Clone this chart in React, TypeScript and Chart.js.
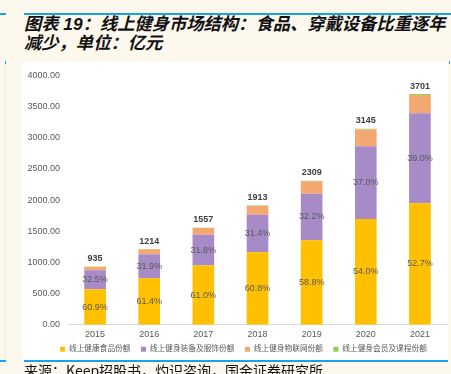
import React, { useEffect, useRef } from "react";
import { Chart, registerables } from "chart.js";

Chart.register(...registerables);

const years = ["2015", "2016", "2017", "2018", "2019", "2020", "2021"];
const foodValues = [569, 745, 950, 1163, 1358, 1698, 1950];
const gearValues = [304, 387, 495, 601, 743, 1164, 1443];
const iotValues = [59, 78, 107, 142, 199, 270, 291];
const memberValues = [3, 4, 5, 7, 9, 13, 17];
const totalLabels = ["935", "1214", "1557", "1913", "2309", "3145", "3701"];
const foodShare = ["60.9%", "61.4%", "61.0%", "60.8%", "58.8%", "54.0%", "52.7%"];
const gearShare = ["32.5%", "31.9%", "31.8%", "31.4%", "32.2%", "37.0%", "39.0%"];
const seriesNames = [
  "线上健康食品份额",
  "线上健身装备及服饰份额",
  "线上健身物联网份额",
  "线上健身会员及课程份额",
];
const seriesColors = ["#FFC000", "#A78BC7", "#F4A871", "#92D050"];
const yMax = 4000;
const yStep = 500;

const FONT = "'Liberation Sans', Arial, 'Noto Sans CJK SC', sans-serif";

const labelPlugin = {
  id: "barLabels",
  afterDatasetsDraw(chart: any) {
    const ctx = chart.ctx;
    ctx.save();
    ctx.textAlign = "center";
    ctx.textBaseline = "middle";
    const shares = [foodShare, gearShare];
    shares.forEach((arr, di) => {
      const meta = chart.getDatasetMeta(di);
      ctx.font = `9px ${FONT}`;
      ctx.fillStyle = "#595959";
      meta.data.forEach((el: any, i: number) => {
        ctx.fillText(arr[i], el.x, (el.y + el.base) / 2);
      });
    });
    const top = chart.getDatasetMeta(3);
    ctx.font = `bold 9px ${FONT}`;
    ctx.fillStyle = "#404040";
    top.data.forEach((el: any, i: number) => {
      ctx.fillText(totalLabels[i], el.x, el.y - 8);
    });
    ctx.restore();
  },
};

const legendShift = {
  id: "legendShift",
  afterLayout(chart: any) {
    const lg = chart.legend;
    if (!lg) return;
    lg.left += 9;
    lg.right += 9;
    lg.top -= 5;
    lg.bottom -= 5;
  },
};

function ChartPanel() {
  const ref = useRef<HTMLCanvasElement | null>(null);
  useEffect(() => {
    if (!ref.current) return;
    const data = [foodValues, gearValues, iotValues, memberValues];
    const chart = new Chart(ref.current, {
      type: "bar",
      data: {
        labels: years,
        datasets: data.map((d, i) => ({
          label: seriesNames[i],
          data: d,
          backgroundColor: seriesColors[i],
          borderWidth: 0,
          barPercentage: 0.4,
          categoryPercentage: 1,
        })),
      },
      options: {
        animation: false,
        responsive: false,
        maintainAspectRatio: false,
        layout: { padding: { top: 13, right: 1, left: 0, bottom: 0 } },
        scales: {
          x: {
            stacked: true,
            grid: { display: false, drawTicks: false },
            border: { display: true, color: "#d9d9d9", width: 1 },
            ticks: { color: "#595959", font: { size: 9, family: FONT }, padding: 4 },
            afterFit: (s: any) => {
              s.height = 15;
            },
          },
          y: {
            stacked: true,
            min: 0,
            max: yMax,
            grid: { display: false, drawTicks: false },
            border: { display: false },
            ticks: {
              stepSize: yStep,
              color: "#595959",
              font: { size: 9, family: FONT },
              padding: 8,
              callback: (v: any) => Number(v).toFixed(2),
            },
            afterFit: (s: any) => {
              s.width = 46;
            },
          },
        },
        plugins: {
          legend: {
            position: "bottom",
            labels: {
              boxWidth: 5,
              boxHeight: 5,
              padding: 10.5,
              color: "#595959",
              font: { size: 7.7, family: FONT },
            },
          },
          tooltip: { enabled: false },
        },
      },
      plugins: [labelPlugin, legendShift],
    });
    return () => chart.destroy();
  }, []);
  return <canvas ref={ref} width={426} height={306} style={{ display: "block" }} />;
}

export default function App() {
  const blue = "#1BA1E6";
  return (
    <div
      style={{
        position: "fixed",
        left: 0,
        top: 0,
        width: 451,
        height: 374,
        background: "#FCF8EE",
        overflow: "hidden",
      }}
    >
      <div style={{ position: "absolute", left: 0, top: 13, width: 6, height: 2, background: blue }} />
      <div style={{ position: "absolute", left: 24, top: 13, width: 427, height: 2, background: blue }} />
      <div
        style={{
          position: "absolute",
          left: 24,
          top: 15,
          width: 430,
          fontFamily: "'Liberation Sans', 'Noto Sans CJK SC', sans-serif",
          fontStyle: "italic",
          fontWeight: 700,
          fontSize: 17.3,
          lineHeight: "19px",
          color: "#111",
          whiteSpace: "nowrap",
        }}
      >
        <div>图表 19：线上健身市场结构：食品、穿戴设备比重逐年</div>
        <div>减少，单位：亿元</div>
      </div>
      <div style={{ position: "absolute", left: 5, top: 62, width: 1, height: 298, background: "#F1ECE0" }} />
      <div style={{ position: "absolute", left: 5, top: 61, width: 1, height: 3, background: blue }} />
      <div style={{ position: "absolute", left: 449, top: 61, width: 1, height: 3, background: blue }} />
      <div style={{ position: "absolute", left: 22, top: 62, width: 426, height: 298, background: "#FFFFFF" }} />
      <div style={{ position: "absolute", left: 22, top: 62, width: 426, height: 306 }}>
        <ChartPanel />
      </div>
      <div style={{ position: "absolute", left: 0, top: 360, width: 6, height: 2, background: blue }} />
      <div style={{ position: "absolute", left: 24, top: 360, width: 424, height: 2, background: blue }} />
      <div
        style={{
          position: "absolute",
          left: 24,
          top: 362,
          fontFamily: "'Noto Sans CJK SC', 'Liberation Sans', sans-serif",
          fontSize: 14,
          lineHeight: "16px",
          color: "#111",
          whiteSpace: "nowrap",
        }}
      >
        来源：Keep招股书，灼识咨询，国金证券研究所
      </div>
    </div>
  );
}
